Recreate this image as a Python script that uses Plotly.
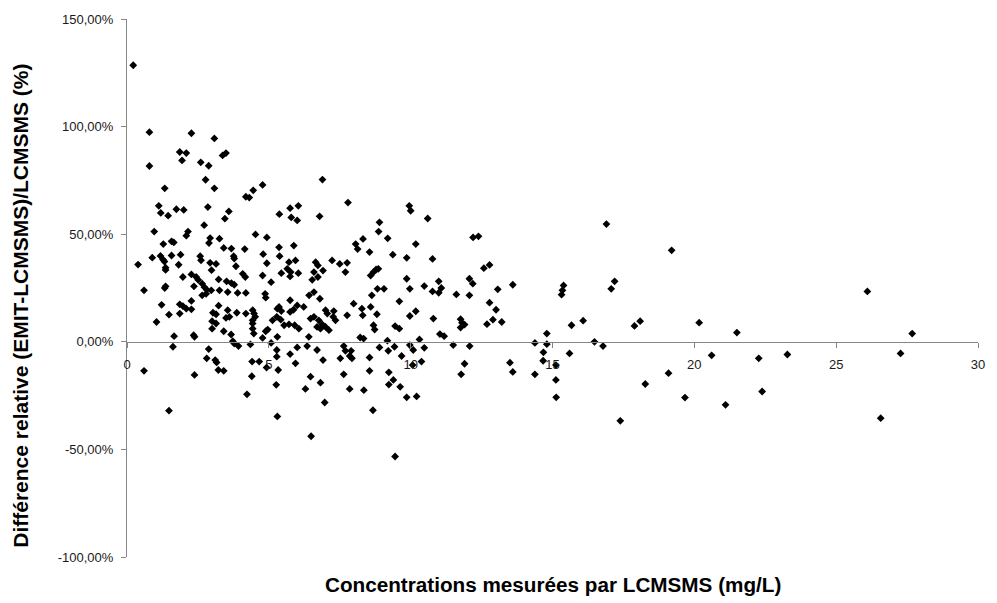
import plotly.graph_objects as go

# LCMSMS concentration (mg/L)
conc = [
    0.22, 0.79, 2.27, 3.08, 1.86, 2.09, 3.37, 3.49, 1.94, 2.60, 2.88, 0.79, 2.77,
    4.78, 1.33, 3.08, 4.45, 4.19, 4.31, 1.12, 2.85, 1.74, 2.00, 1.19, 1.45, 3.59, 3.45,
    2.72, 0.96, 2.15, 2.09, 4.53, 4.93, 1.28, 1.57, 1.65, 2.93, 3.26, 2.89, 3.41, 3.68,
    4.15, 4.80, 0.89, 1.18, 1.27, 1.32, 1.57, 1.89, 2.58, 2.61, 3.76, 3.78, 0.39, 1.82,
    1.36, 1.36, 2.93, 3.14, 2.98, 3.84, 4.93, 1.97, 2.27, 2.44, 2.51, 3.23, 3.51, 3.68,
    3.78, 4.08, 4.17, 4.78, 0.60, 1.36, 1.33, 2.36, 2.65, 2.73, 2.81, 2.79, 2.65, 2.97,
    3.26, 3.55, 3.90, 4.19, 4.87, 4.89, 1.22, 1.86, 1.97, 2.27, 3.23,
    2.09, 2.27, 1.86, 1.48, 1.04, 3.03, 3.14, 3.55, 3.87, 4.19, 3.49, 3.61, 3.00, 3.14,
    3.00, 4.43, 4.48, 4.52, 4.43, 4.43, 4.43, 4.47, 4.89, 4.78, 3.41, 3.67, 3.73, 3.78,
    3.93, 1.66, 2.35, 2.38, 1.62, 4.35, 2.88, 2.81, 3.11, 3.16, 3.22, 3.41, 4.41, 4.66,
    4.92, 0.60, 2.38, 4.40, 4.23, 1.48,
    6.89, 7.79, 9.95, 10.00, 5.37, 5.75, 6.04, 5.79, 6.00, 6.79, 8.90, 8.87, 9.19, 8.32,
    5.36, 5.38, 5.88, 5.94, 5.71, 5.65, 5.77, 5.75, 5.44, 6.04, 5.08, 6.65, 6.73, 6.59,
    6.91, 6.73, 6.53, 7.23, 7.50, 7.76, 7.70, 8.06, 8.13, 8.55, 9.37, 9.86, 8.69, 8.78,
    8.86, 8.59, 9.86, 9.97, 8.83, 9.06, 8.63, 9.60, 6.59, 6.42, 6.80, 5.75, 6.00, 6.23,
    5.87, 5.75, 5.36, 5.30, 5.44, 5.28, 5.42, 5.13, 4.96, 5.54, 5.71, 5.91, 6.06, 6.47,
    6.59, 6.76, 6.88, 7.00, 7.12, 6.82, 6.70, 7.00, 7.06, 7.29, 7.27, 7.35, 7.76, 7.99,
    8.28, 8.31, 8.59, 8.81, 8.69, 8.73, 9.45, 9.60, 9.97, 5.08, 5.30, 6.41, 8.22, 8.34,
    9.18, 6.00, 6.35, 6.70, 7.64, 7.70, 7.90, 7.85, 8.90, 9.21, 9.43, 9.68, 5.28, 5.28,
    5.75, 5.94, 6.91, 7.52, 7.93, 8.55,
    5.33, 5.26, 6.47, 6.82, 6.29, 7.64, 7.85, 8.35, 8.55, 9.23, 9.39, 9.23, 9.63, 9.86,
    10.07, 6.97, 5.30, 8.67, 6.49, 9.45,
    10.60, 12.20, 12.39, 10.18, 10.77, 12.58, 12.78, 10.48, 10.77, 10.99, 11.08, 10.99,
    11.61, 12.07, 12.19, 12.07, 13.07, 13.60, 12.78, 13.01, 10.18,
    10.80, 11.76, 11.81, 11.90, 11.76, 12.69, 12.90, 13.21, 10.31, 10.48, 11.03, 11.18,
    9.97, 10.09, 11.50, 12.08, 10.38, 11.90, 11.78, 10.21, 13.50, 13.60, 14.38, 14.80,
    14.80, 14.68, 14.67, 14.38, 15.12, 15.12, 15.13,
    16.90, 19.20, 15.39, 15.35, 15.32, 17.19, 17.07, 15.67, 16.08, 17.89, 18.09, 20.17,
    16.48, 16.78, 15.60, 19.09, 18.27, 19.67, 17.39,
    21.50, 20.61, 22.27, 23.28, 22.39, 21.10,
    26.10, 27.68, 27.27, 26.57,
]

# Relative difference (EMIT-LCMSMS)/LCMSMS, in %
diff = [
    128.5, 97.4, 96.9, 94.5, 88.2, 87.7, 86.6, 87.7, 84.3, 83.4, 81.8, 81.7, 75.3,
    72.9, 71.3, 71.3, 70.4, 67.4, 67.0, 63.2, 62.6, 61.6, 61.3, 59.9, 58.6, 60.6, 57.2,
    54.2, 51.2, 51.2, 49.3, 49.9, 48.5, 45.4, 46.7, 46.2, 48.2, 47.9, 45.9, 43.6, 43.3,
    43.1, 40.7, 39.1, 39.9, 38.2, 37.3, 40.1, 40.5, 39.8, 37.9, 39.8, 38.7, 35.9, 35.8,
    34.4, 33.4, 36.7, 36.2, 33.3, 35.1, 36.5, 30.1, 31.3, 30.1, 28.8, 29.0, 28.1, 27.3,
    26.5, 31.6, 30.1, 30.8, 23.9, 25.8, 25.0, 25.8, 27.0, 25.4, 24.2, 22.3, 21.6, 23.9,
    23.9, 23.1, 22.7, 22.7, 22.3, 20.5, 17.2, 17.4, 16.6, 19.0, 16.8,
    15.4, 15.1, 13.1, 12.6, 9.2, 13.5, 12.8, 14.7, 13.5, 13.1, 11.1, 11.6, 9.6, 8.5,
    6.1, 14.7, 13.1, 11.6, 10.0, 8.5, 6.1, 3.8, 4.9, 1.8, 4.9, 3.4, 0.3, -0.8,
    -2.0, 2.6, 3.1, 2.3, -2.3, -1.2, -3.4, -7.7, -8.5, -9.6, -13.1, -13.5, -9.2, -9.2,
    -12.0, -13.5, -15.4, -16.0, -24.4, -32.0,
    75.4, 64.7, 63.2, 60.9, 59.3, 62.1, 63.2, 57.8, 56.4, 58.3, 55.5, 51.2, 48.1, 47.8,
    43.9, 39.8, 44.7, 37.8, 37.0, 33.9, 32.4, 30.4, 31.9, 31.9, 27.7, 37.0, 35.5, 32.4,
    33.1, 30.1, 28.8, 37.8, 36.2, 36.7, 32.4, 45.4, 43.1, 41.7, 40.5, 39.0, 32.4, 33.6,
    33.9, 30.8, 29.3, 24.6, 24.6, 24.6, 21.6, 18.8, 23.1, 21.6, 20.0, 19.3, 16.9, 16.2,
    14.9, 13.9, 16.2, 15.4, 14.3, 11.6, 10.3, 10.0, 5.7, 7.7, 8.1, 7.7, 6.1, 10.8,
    11.6, 10.0, 8.1, 6.9, 5.4, 6.1, 6.9, 14.7, 13.1, 14.3, 11.6, 10.0, 12.3, 17.7,
    15.4, 12.3, 16.2, 12.8, 7.7, 5.7, 7.3, 6.1, 12.0, -0.5, 2.3, 2.3, 2.0, 1.5,
    0.5, -2.6, -2.0, -3.8, -2.0, -4.2, -4.2, -6.6, -2.6, -4.2, -2.3, -6.6, -3.8, -6.9,
    -5.7, -10.0, -8.5, -7.7, -7.7, -7.3,
    -13.1, -20.0, -16.2, -19.0, -21.9, -15.1, -21.9, -22.5, -13.5, -14.2, -17.7, -19.9, -20.9, -25.8,
    -10.8, -28.2, -34.7, -31.8, -43.9, -53.3,
    57.3, 48.5, 49.0, 45.4, 38.5, 34.2, 35.7, 25.9, 23.4, 28.1, 25.0, 22.8,
    22.0, 29.3, 27.0, 21.6, 24.4, 26.5, 18.2, 14.9, 14.2,
    10.8, 10.5, 8.9, 8.0, 6.6, 8.2, 10.3, 9.2, 1.1, -2.8, 3.6, 2.6,
    -1.5, -3.8, -1.5, -2.0, -9.2, -10.2, -15.1, -25.4, -9.7, -14.0, -0.5, 3.8,
    -1.1, -4.9, -8.8, -15.1, -10.8, -17.7, -25.8,
    54.7, 42.5, 26.2, 23.9, 21.9, 28.1, 24.6, 7.7, 9.8, 7.4, 9.6, 8.9,
    0.0, -2.0, -5.4, -14.6, -19.6, -25.9, -36.7,
    4.3, -6.3, -7.7, -5.9, -23.1, -29.3,
    23.4, 3.8, -5.4, -35.5,
]

x_ticks = [0, 5, 10, 15, 20, 25, 30]
y_ticks = [-100, -50, 0, 50, 100, 150]
y_tick_labels = ["-100,00%", "-50,00%", "0,00%", "50,00%", "100,00%", "150,00%"]
x_title = "Concentrations mesurées par LCMSMS (mg/L)"
y_title = "Différence relative (EMIT-LCMSMS)/LCMSMS (%)"

FONT = "Liberation Sans, Arial, sans-serif"
AXIS_GREY = "#868686"

fig = go.Figure()
fig.add_trace(go.Scatter(
    x=conc, y=diff, mode="markers",
    marker=dict(symbol="diamond", size=6, color="#000000", line=dict(width=0)),
    showlegend=False, hoverinfo="x+y",
))

fig.update_layout(
    width=997, height=603,
    margin=dict(l=127, r=12, t=15, b=46),
    paper_bgcolor="white", plot_bgcolor="white",
    font=dict(family=FONT, size=13, color="#1a1a1a"),
    xaxis=dict(
        range=[0, 30], tickmode="array", tickvals=x_ticks,
        ticktext=[str(v) for v in x_ticks], anchor="free", position=0.4,
        showgrid=False, zeroline=False, showline=True, linecolor=AXIS_GREY, linewidth=1,
        ticks="outside", ticklen=5, tickcolor=AXIS_GREY, ticklabelstandoff=6,
        tickfont=dict(family=FONT, size=13, color="#1a1a1a"),
    ),
    yaxis=dict(
        range=[-100, 150], tickmode="array", tickvals=y_ticks, ticktext=y_tick_labels,
        showgrid=False, zeroline=False, showline=True, linecolor=AXIS_GREY, linewidth=1,
        ticks="outside", ticklen=5, tickcolor=AXIS_GREY, ticklabelstandoff=5,
        tickfont=dict(family=FONT, size=13, color="#1a1a1a"),
    ),
    annotations=[
        dict(text="<b>" + x_title + "</b>", xref="paper", yref="paper",
             x=0.5, y=-0.0517, xanchor="center", yanchor="middle", showarrow=False,
             font=dict(family=FONT, size=20.7, color="#000000")),
        dict(text="<b>" + y_title + "</b>", xref="paper", yref="paper",
             x=-0.1247, y=0.4668, xanchor="center", yanchor="middle", showarrow=False,
             textangle=-90, font=dict(family=FONT, size=21, color="#000000")),
    ],
)

fig.write_html("out.html")
